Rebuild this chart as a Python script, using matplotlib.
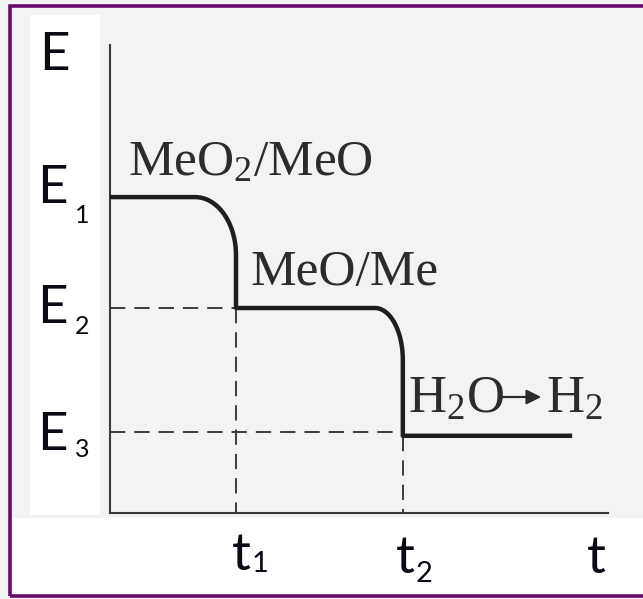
import matplotlib
matplotlib.use("Agg")
import numpy as np
import matplotlib.pyplot as plt
from matplotlib.patches import Rectangle, FancyArrowPatch

# ---- schematic values (arbitrary units) ----
plateau_E = [6.75, 4.38, 1.65]        # potential plateaus of the three stages
level_E = [6.75, 4.38, 1.73]          # marked levels E1, E2, E3
step_t = [2.53, 5.88]                 # transition times t1, t2
t_end = 9.28                          # end of the last plateau
corner_rx = [0.82, 0.56]              # horizontal rounding of each drop
corner_ry = [1.24, 1.11]              # vertical rounding of each drop
level_labels = ["1", "2", "3"]
time_labels = ["1", "2"]
stage_labels = ["MeO$_2$/MeO", "MeO/Me"]

W, H = 643, 599
plt.rcParams["lines.scale_dashes"] = False
plt.rcParams["mathtext.default"] = "regular"


def fx(x):
    return x / W


def fy(y):
    return 1 - y / H


fig = plt.figure(figsize=(W / 100, H / 100), dpi=100)
fig.patch.set_facecolor("#f3f3f3")

# white paper areas around the labels
fig.patches.append(Rectangle((fx(30), fy(515)), fx(100) - fx(30), fy(15) - fy(515),
                             transform=fig.transFigure, facecolor="white", edgecolor="none", zorder=0))
fig.patches.append(Rectangle((fx(12), fy(595)), fx(643) - fx(12), fy(518) - fy(595),
                             transform=fig.transFigure, facecolor="white", edgecolor="none", zorder=0))
# purple frame
fig.patches.append(Rectangle((fx(10), fy(596)), fx(700) - fx(10), fy(6) - fy(596),
                             transform=fig.transFigure, facecolor="none", edgecolor="#680a6c",
                             linewidth=2.6, zorder=10))

ax = fig.add_axes([fx(110), fy(513), (608 - 110) / W, (513 - 45) / H])
ax.set_xlim(0, 10)
ax.set_ylim(0, 10)
ax.patch.set_alpha(0)
for s in ["top", "right"]:
    ax.spines[s].set_visible(False)
for s in ["left", "bottom"]:
    ax.spines[s].set_color("#3a3a3a")
    ax.spines[s].set_linewidth(1.5)
ax.set_xticks([])
ax.set_yticks([])


def rounded_drop(t_start, t_drop, e_hi, e_lo, rx, ry):
    """Flat segment at e_hi that bends down into a vertical drop at t_drop."""
    th = np.linspace(0, np.pi / 2, 40)
    cx, cy = t_drop - rx, e_hi - ry
    xs = [t_start] + list(cx + rx * np.sin(th)) + [t_drop]
    ys = [e_hi] + list(cy + ry * np.cos(th)) + [e_lo]
    return xs, ys


xs, ys = [], []
starts = [0.0, step_t[0]]
for i in range(2):
    sx, sy = rounded_drop(starts[i], step_t[i], plateau_E[i], plateau_E[i + 1],
                          corner_rx[i], corner_ry[i])
    xs += sx
    ys += sy
xs += [t_end]
ys += [plateau_E[2]]
ax.plot(xs, ys, color="#1e1e1e", linewidth=3.2, solid_capstyle="butt",
        solid_joinstyle="round", zorder=3)

# dashed guide lines
dash = dict(color="#3c3c3c", linewidth=1.4, linestyle=(0, (11, 6.5)), zorder=2)
ax.plot([0, step_t[0]], [level_E[1], level_E[1]], **dash)
ax.plot([0, step_t[1]], [level_E[2], level_E[2]], **dash)
ax.plot([step_t[0], step_t[0]], [level_E[1], 0], **dash)
ax.plot([step_t[1], step_t[1]], [plateau_E[2], 0], **dash)

# axis labels (sans)
sans = dict(family=["Lato", "DejaVu Sans"], color="#0b0b16")
fig.text(fx(39), fy(70), "E", fontsize=38, va="baseline", ha="left", **sans)
e_base = [203, 323, 450]
e_sub = [223, 334, 457]
for lab, b, sb in zip(level_labels, e_base, e_sub):
    fig.text(fx(37), fy(b), "E", fontsize=38, va="baseline", ha="left", **sans)
    fig.text(fx(75), fy(sb), lab, fontsize=18, va="baseline", ha="left", **sans)
t_x = [232, 396]
t_base = [570, 573]
t_sub_x = [252, 416]
t_sub = [572, 582]
for lab, x, b, sx, sb in zip(time_labels, t_x, t_base, t_sub_x, t_sub):
    fig.text(fx(x), fy(b), "t", fontsize=38, va="baseline", ha="left", **sans)
    fig.text(fx(sx), fy(sb), lab, fontsize=21, va="baseline", ha="left", **sans)
fig.text(fx(587), fy(573), "t", fontsize=38, va="baseline", ha="left", **sans)

# stage labels (serif)
serif = dict(family=["Liberation Serif", "DejaVu Serif"], color="#2c2c2c")
fig.text(fx(128), fy(175), stage_labels[0], fontsize=37, va="baseline", ha="left", **serif)
fig.text(fx(251), fy(285), stage_labels[1], fontsize=37, va="baseline", ha="left", **serif)
fig.text(fx(408), fy(413), "H$_2$O", fontsize=38, va="baseline", ha="left", **serif)
fig.text(fx(546), fy(413), "H$_2$", fontsize=38, va="baseline", ha="left", **serif)
fig.patches.append(FancyArrowPatch((fx(497), fy(397)), (fx(544), fy(397)),
                                   transform=fig.transFigure, arrowstyle="-|>",
                                   mutation_scale=22, color="#2c2c2c", linewidth=1.6))

fig.savefig("out.png", dpi=100, facecolor=fig.get_facecolor())
